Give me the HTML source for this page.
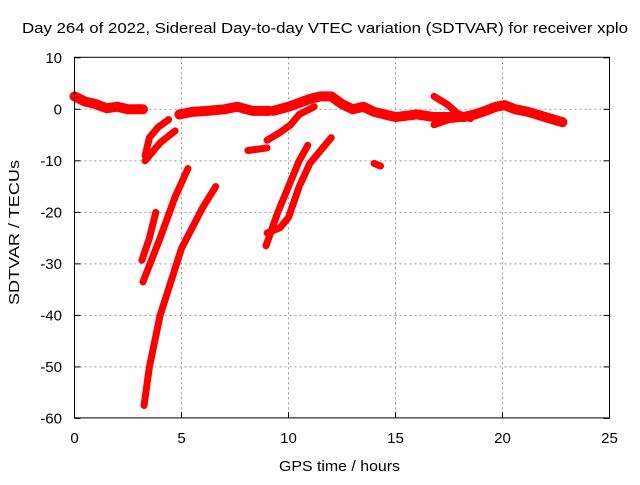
<!DOCTYPE html>
<html><head><meta charset="utf-8"><style>
body{margin:0;background:#fff;font-family:"Liberation Sans",sans-serif}
svg text{font-family:"Liberation Sans",sans-serif;font-size:14px;fill:#000}
</style></head><body>
<svg id="c" width="640" height="480">
<text x="22" y="33" textLength="606" lengthAdjust="spacingAndGlyphs" style="font-size:15px">Day 264 of 2022, Sidereal Day-to-day VTEC variation (SDTVAR) for receiver xplo</text>
<text x="279" y="471" textLength="121" lengthAdjust="spacingAndGlyphs" style="font-size:15px">GPS time / hours</text>
<text transform="translate(19,305) rotate(-90)" textLength="145" lengthAdjust="spacingAndGlyphs" style="font-size:15px">SDTVAR / TECUs</text>
<g id="grid"></g><g id="marks"></g>
<rect x="74.5" y="57.3" width="535" height="360.6" fill="none" stroke="#000" stroke-width="1"/>
</svg>
<script>
const xTicks=[0,5,10,15,20,25];
const yTicks=[10,0,-10,-20,-30,-40,-50,-60];
const seg1=[[0,2.5],[0.5,1.5],[1,1],[1.5,0.2],[2,0.5],[2.5,0],[3.2,0]];
const seg2=[[4.9,-1],[5.5,-0.5],[6.2,-0.3],[7,0],[7.6,0.5],[8.3,-0.3],[9.1,-0.3]];
const seg3=[[9.3,-0.3],[10,0.5],[11,2],[11.5,2.5],[12,2.5],[12.5,1],[13,0],[13.5,0.5],[14,-0.5],[14.5,-1],[15,-1.5],[16,-1],[16.8,-1.5],[17.5,-1.5],[18.2,-1.5],[18.7,-1],[19.2,-0.3],[19.7,0.5],[20.1,0.8],[20.6,0],[21.2,-0.5],[22,-1.5],[22.8,-2.5]];
const seg4=[[16.8,2.5],[17.4,1],[17.9,-0.8],[18.5,-1.8]];
const seg5=[[16.8,-3],[17.5,-2],[18,-1.8]];
const seg6=[[3.3,-9],[3.5,-5.5],[3.9,-3.5],[4.4,-2]];
const seg7=[[3.3,-10],[4,-6.5],[4.7,-4.2]];
const seg8=[[8.1,-8],[9,-7.5]];
const seg9=[[9.0,-6],[9.6,-4.5],[10.1,-3],[10.5,-1],[11.2,0.5]];
const seg10=[[14,-10.5],[14.3,-11]];
const seg11=[[3.15,-29.3],[3.5,-25],[3.8,-20]];
const seg12=[[3.2,-33.5],[4,-25],[4.7,-17],[5.3,-11.5]];
const seg13=[[3.25,-57.5],[3.5,-50],[4,-40],[5,-27],[6,-19],[6.6,-15]];
const seg14=[[8.95,-26.5],[9.5,-20],[10,-15],[10.5,-10],[10.9,-7]];
const seg15=[[9,-24],[9.6,-23],[10,-21],[10.5,-15],[11,-10.5],[12,-5.5]];
const series=[seg1,seg2,seg3,seg4,seg5,seg6,seg7,seg8,seg9,seg10,seg11,seg12,seg13,seg14,seg15];
const X=v=>74.5+v*21.4, Y=v=>109.3-v*5.152;
const NS="http://www.w3.org/2000/svg";
const g=document.getElementById('grid'), m=document.getElementById('marks');
function mk(t,a,p){const e=document.createElementNS(NS,t);for(const k in a)e.setAttribute(k,a[k]);p.appendChild(e);return e;}
xTicks.forEach(t=>{
 if(t>0&&t<25){const l=mk('line',{x1:X(t),x2:X(t),y1:57.3,y2:418,stroke:'#999','stroke-dasharray':'2,3'},g);
 
 }
 mk('line',{x1:X(t),x2:X(t),y1:418,y2:412,stroke:'#000'},g);
 const tx=mk('text',{x:X(t),y:443,'text-anchor':'middle',style:'font-size:15px'},g);tx.textContent=t;
 
 
});
yTicks.forEach(t=>{
 if(t<10&&t>-60){const l=mk('line',{x1:74.5,x2:609.5,y1:Y(t),y2:Y(t),stroke:'#999','stroke-dasharray':'2,3'},g);
 
 }
 mk('line',{x1:74.5,x2:80.5,y1:Y(t),y2:Y(t),stroke:'#000'},g);
 mk('line',{x1:603.5,x2:609.5,y1:Y(t),y2:Y(t),stroke:'#000'},g);
 const tx=mk('text',{x:62,y:Y(t)+5,'text-anchor':'end',style:'font-size:15px'},g);tx.textContent=t;
 
 
});
series.forEach((s,i)=>{
 const p=mk('polyline',{points:s.map(d=>X(d[0])+','+Y(d[1])).join(' '),fill:'none',stroke:'#f00','stroke-width':(i<3?10:7),'stroke-linejoin':'round','stroke-linecap':'round'},m);
 
 
});
</script>
</body></html>
